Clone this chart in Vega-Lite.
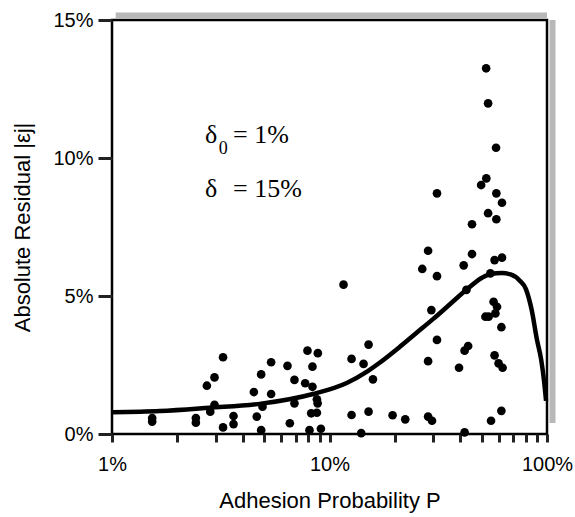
{
  "$schema": "https://vega.github.io/schema/vega-lite/v6.json",
  "width": 435,
  "height": 414,
  "autosize": {"type": "none"},
  "padding": {"left": 112, "top": 20, "right": 28, "bottom": 83},
  "background": "white",
  "config": {
    "view": {"stroke": "black", "strokeWidth": 2.5},
    "axis": {
      "domain": false,
      "grid": false,
      "labelFont": "Liberation Sans",
      "labelFontSize": 20,
      "labelColor": "black",
      "titleFont": "Liberation Sans",
      "titleFontSize": 22,
      "titleFontWeight": "normal",
      "titleColor": "black",
      "labelOverlap": false,
      "labelFlush": false
    }
  },
  "datasets": {
    "points": [
      {"P": 1.53, "r": 0.58}, {"P": 1.53, "r": 0.45}, {"P": 2.43, "r": 0.58}, {"P": 2.43, "r": 0.41},
      {"P": 3.24, "r": 2.78}, {"P": 2.96, "r": 2.05}, {"P": 2.73, "r": 1.75}, {"P": 2.96, "r": 1.06},
      {"P": 2.83, "r": 0.81}, {"P": 3.24, "r": 0.24}, {"P": 3.62, "r": 0.65}, {"P": 3.62, "r": 0.36},
      {"P": 4.63, "r": 0.63}, {"P": 4.85, "r": 0.14}, {"P": 4.92, "r": 0.99}, {"P": 4.49, "r": 1.52},
      {"P": 4.85, "r": 2.16}, {"P": 5.39, "r": 2.6}, {"P": 5.39, "r": 1.45}, {"P": 6.41, "r": 2.47},
      {"P": 6.9, "r": 1.96}, {"P": 6.9, "r": 1.11}, {"P": 6.57, "r": 0.39}, {"P": 7.92, "r": 3.02},
      {"P": 8.84, "r": 2.93}, {"P": 8.35, "r": 2.44}, {"P": 7.73, "r": 1.84}, {"P": 8.35, "r": 1.71},
      {"P": 8.75, "r": 1.26}, {"P": 8.82, "r": 1.11}, {"P": 8.24, "r": 0.75}, {"P": 8.75, "r": 0.77},
      {"P": 8.09, "r": 0.14}, {"P": 9.13, "r": 0.19}, {"P": 11.6, "r": 5.41}, {"P": 12.63, "r": 2.72},
      {"P": 15.12, "r": 3.24}, {"P": 14.34, "r": 2.54}, {"P": 15.84, "r": 1.98}, {"P": 12.63, "r": 0.69},
      {"P": 15.12, "r": 0.81}, {"P": 13.99, "r": 0.03}, {"P": 19.5, "r": 0.68}, {"P": 22.3, "r": 0.53},
      {"P": 28.4, "r": 0.63}, {"P": 29.6, "r": 0.48}, {"P": 28.4, "r": 2.64}, {"P": 29.4, "r": 4.49},
      {"P": 31.2, "r": 3.41}, {"P": 26.7, "r": 5.98}, {"P": 31.2, "r": 5.72}, {"P": 28.4, "r": 6.64},
      {"P": 31.2, "r": 8.72}, {"P": 39.4, "r": 2.4}, {"P": 41.8, "r": 3.02}, {"P": 43.4, "r": 3.19},
      {"P": 42.6, "r": 5.22}, {"P": 41.8, "r": 0.06}, {"P": 41.4, "r": 6.11}, {"P": 45.2, "r": 6.52},
      {"P": 45.2, "r": 7.6}, {"P": 55.3, "r": 0.48}, {"P": 61.7, "r": 0.84}, {"P": 57.4, "r": 2.85},
      {"P": 59.9, "r": 2.56}, {"P": 62.5, "r": 2.4}, {"P": 61.7, "r": 3.87}, {"P": 52.1, "r": 4.25},
      {"P": 56.8, "r": 4.79}, {"P": 58.9, "r": 4.61}, {"P": 57.9, "r": 4.37}, {"P": 53.9, "r": 4.25},
      {"P": 54.9, "r": 5.82}, {"P": 57.4, "r": 6.3}, {"P": 62.1, "r": 6.39}, {"P": 52.6, "r": 9.26},
      {"P": 49.8, "r": 9.02}, {"P": 58.5, "r": 8.72}, {"P": 62.1, "r": 8.38}, {"P": 53.6, "r": 8.0},
      {"P": 58.5, "r": 7.78}, {"P": 58.3, "r": 10.37}, {"P": 52.5, "r": 13.25}, {"P": 53.6, "r": 11.98}
    ],
    "curve": [
      {"P": 1.0, "r": 0.79}, {"P": 1.66, "r": 0.83}, {"P": 2.8, "r": 0.95}, {"P": 4.85, "r": 1.1},
      {"P": 8.4, "r": 1.45}, {"P": 12, "r": 1.85}, {"P": 15, "r": 2.28}, {"P": 17, "r": 2.58},
      {"P": 21, "r": 3.15}, {"P": 25, "r": 3.65}, {"P": 30, "r": 4.17}, {"P": 36, "r": 4.72},
      {"P": 43, "r": 5.25}, {"P": 50, "r": 5.65}, {"P": 55, "r": 5.8}, {"P": 62, "r": 5.83},
      {"P": 68, "r": 5.78}, {"P": 75, "r": 5.55}, {"P": 80, "r": 5.25}, {"P": 85, "r": 4.5},
      {"P": 90, "r": 3.4}, {"P": 94, "r": 2.7}, {"P": 97, "r": 1.9}, {"P": 99, "r": 1.2}
    ],
    "notes": [
      {"P": 2.68, "r": 10.54, "t": "δ"}, {"P": 3.6, "r": 10.54, "t": "= 1%"},
      {"P": 2.68, "r": 8.59, "t": "δ"}, {"P": 3.6, "r": 8.59, "t": "= 15%"}
    ],
    "subs": [{"P": 3.1, "r": 10.14, "t": "0"}],
    "frame": [{"P0": 1.04, "P1": 100, "rlo": 0.4, "rhi": 15}]
  },
  "layer": [
    {
      "data": {"name": "frame"},
      "mark": {"type": "rule", "color": "#b8b8b8", "strokeWidth": 6, "clip": false},
      "encoding": {
        "x": {"field": "P0", "type": "quantitative"},
        "x2": {"field": "P1"},
        "y": {"field": "rhi", "type": "quantitative"},
        "yOffset": {"value": -4.5},
        "x2Offset": {"value": 9}
      }
    },
    {
      "data": {"name": "frame"},
      "mark": {"type": "rule", "color": "#b8b8b8", "strokeWidth": 6, "clip": false},
      "encoding": {
        "x": {"field": "P1", "type": "quantitative"},
        "xOffset": {"value": 5.5},
        "y": {"field": "rlo", "type": "quantitative"},
        "y2": {"field": "rhi"},
        "y2Offset": {"value": -7.5}
      }
    },
    {
      "data": {"name": "curve"},
      "mark": {"type": "line", "color": "black", "strokeWidth": 4.5, "interpolate": "monotone"},
      "encoding": {
        "x": {
          "field": "P", "type": "quantitative",
          "scale": {"type": "log", "domain": [1, 100], "nice": false},
          "axis": {
            "title": "Adhesion Probability P",
            "values": [1, 2, 3, 4, 5, 6, 7, 8, 9, 10, 20, 30, 40, 50, 60, 70, 80, 90, 100],
            "labelExpr": "(datum.value == 1 || datum.value == 10 || datum.value == 100) ? datum.value + '%' : ''",
            "ticks": true,
            "tickColor": "#222222",
            "tickWidth": 3,
            "tickSize": 8,
            "labelPadding": 12,
            "titlePadding": 16
          }
        },
        "y": {
          "field": "r", "type": "quantitative",
          "scale": {"domain": [0, 15], "nice": false},
          "axis": {
            "title": "Absolute Residual  |εj|",
            "values": [0, 5, 10, 15],
            "labelExpr": "datum.value + '%'",
            "ticks": true,
            "tickColor": "#222222",
            "tickWidth": 3,
            "tickSize": 14,
            "labelPadding": 5,
            "titlePadding": 18
          }
        }
      }
    },
    {
      "data": {"name": "points"},
      "mark": {"type": "circle", "size": 75, "color": "black", "opacity": 1},
      "encoding": {
        "x": {"field": "P", "type": "quantitative"},
        "y": {"field": "r", "type": "quantitative"}
      }
    },
    {
      "data": {"name": "notes"},
      "mark": {"type": "text", "font": "Liberation Serif", "fontSize": 26, "align": "left", "baseline": "alphabetic", "color": "black"},
      "encoding": {
        "x": {"field": "P", "type": "quantitative"},
        "y": {"field": "r", "type": "quantitative"},
        "text": {"field": "t"}
      }
    },
    {
      "data": {"name": "subs"},
      "mark": {"type": "text", "font": "Liberation Serif", "fontSize": 18, "align": "left", "baseline": "alphabetic", "color": "black"},
      "encoding": {
        "x": {"field": "P", "type": "quantitative"},
        "y": {"field": "r", "type": "quantitative"},
        "text": {"field": "t"}
      }
    }
  ]
}
